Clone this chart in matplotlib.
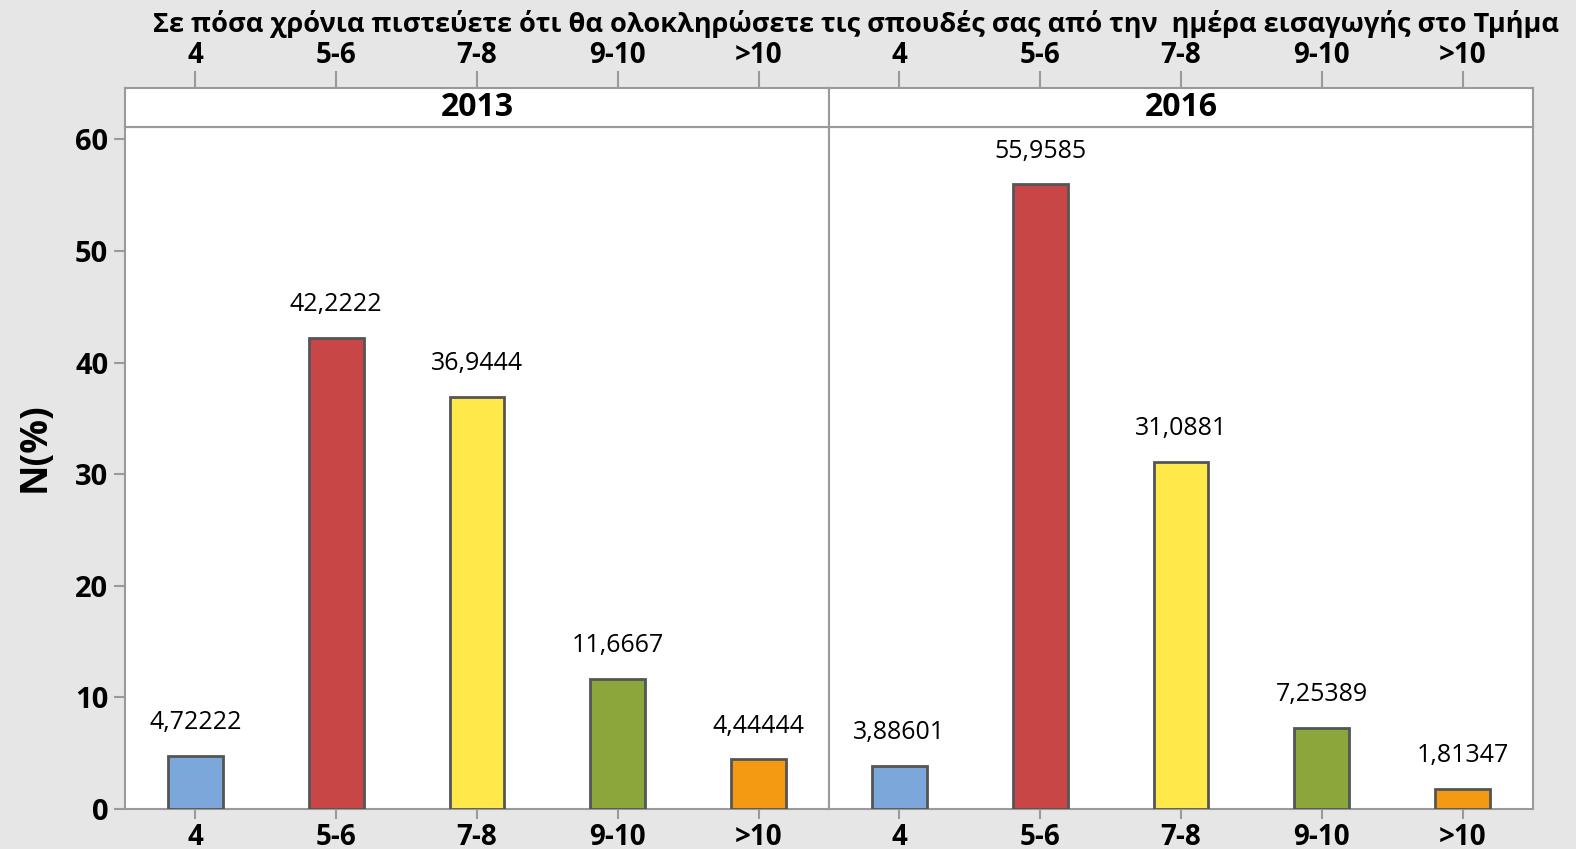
import matplotlib
matplotlib.use("Agg")
import matplotlib.pyplot as plt

categories = ["4", "5-6", "7-8", "9-10", ">10"]
years = ["2013", "2016"]
values_2013 = [4.72222, 42.2222, 36.9444, 11.6667, 4.44444]
values_2016 = [3.88601, 55.9585, 31.0881, 7.25389, 1.81347]
labels_2013 = ["4,72222", "42,2222", "36,9444", "11,6667", "4,44444"]
labels_2016 = ["3,88601", "55,9585", "31,0881", "7,25389", "1,81347"]
colors = ["#7BA7DB", "#C84646", "#FFE94A", "#8BA63A", "#F39A12"]
title = "Σε πόσα χρόνια πιστεύετε ότι θα ολοκληρώσετε τις σπουδές σας από την  ημέρα εισαγωγής στο Τμήμα"
ylabel = "N(%)"

plt.rcParams['font.family'] = ['Open Sans', 'DejaVu Sans']

W, H = 1576, 849
fig = plt.figure(figsize=(W / 100, H / 100), dpi=100)
fig.patch.set_facecolor("#E6E6E6")

GRAY = "#9A9A9A"
panel_left = [125, 829]
panel_w = 704
y_bottom_px = 809
y_top_px = 127
strip_top_px = 88

data = [values_2013, values_2016]
labs = [labels_2013, labels_2016]

for i in range(2):
    x0 = panel_left[i] / W
    ax = fig.add_axes([x0, (H - y_bottom_px) / H, panel_w / W, (y_bottom_px - y_top_px) / H])
    ax.set_facecolor("white")
    xs = list(range(len(categories)))
    ax.bar(xs, data[i], width=0.39, color=colors, edgecolor="#555555", linewidth=2, zorder=3)
    for x, v, t in zip(xs, data[i], labs[i]):
        ax.annotate(t, (x, v), xytext=(0, 24), textcoords="offset points",
                    ha="center", va="center", fontsize=18, color="black")
    ax.set_xlim(-0.5, 4.5)
    ax.set_ylim(0, 61.1)
    ax.set_xticks(xs)
    ax.set_xticklabels(categories, fontsize=20, fontweight="bold")
    ax.tick_params(axis="x", direction="out", length=7, width=1.5, color=GRAY, pad=3)
    for s in ax.spines.values():
        s.set_color(GRAY)
        s.set_linewidth(1.5)
    if i == 0:
        ax.set_yticks([0, 10, 20, 30, 40, 50, 60])
        ax.set_yticklabels(["0", "10", "20", "30", "40", "50", "60"], fontsize=21, fontweight="bold")
        ax.tick_params(axis="y", direction="out", length=8, width=1.5, color=GRAY, pad=4)
        ax.set_ylabel(ylabel, fontsize=27, fontweight="bold")
        ax.yaxis.set_label_coords(-0.101, 0.53)
    else:
        ax.set_yticks([])

    # strip with top ticks
    sax = fig.add_axes([x0, (H - y_top_px) / H, panel_w / W, (y_top_px - strip_top_px) / H])
    sax.set_facecolor("white")
    sax.set_xlim(-0.5, 4.5)
    sax.set_ylim(0, 1)
    sax.set_yticks([])
    sax.xaxis.tick_top()
    sax.set_xticks(xs)
    sax.set_xticklabels(categories, fontsize=20, fontweight="bold")
    sax.tick_params(axis="x", direction="out", length=12, width=1.5, color=GRAY, pad=1)
    for s in sax.spines.values():
        s.set_color(GRAY)
        s.set_linewidth(1.5)
    sax.text(0.5, 0.5, years[i], transform=sax.transAxes, ha="center", va="center",
             fontsize=23, fontweight="bold")

fig.text(856 / W, 1 - 24 / H, title, ha="center", va="center", fontsize=19.5, fontweight="bold")

fig.savefig("out.png", dpi=100, facecolor=fig.get_facecolor())
